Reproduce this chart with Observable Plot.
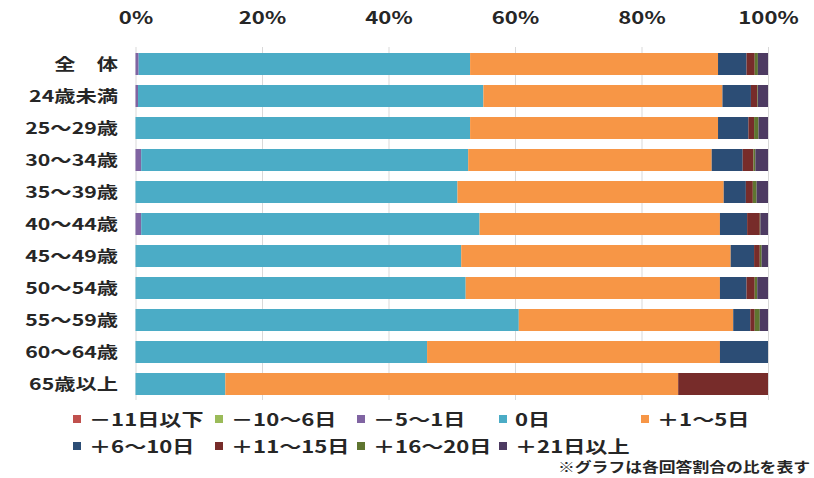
<!DOCTYPE html>
<html><head><meta charset="utf-8">
<script src="https://cdn.jsdelivr.net/npm/d3@7"></script>
<script src="https://cdn.jsdelivr.net/npm/@observablehq/plot@0.6"></script>
<style>
body{margin:0;background:#fff;font-family:"Noto Sans CJK JP","Noto Sans",sans-serif;}
#wrap{position:relative;width:814px;height:478px;overflow:hidden}
#chart svg{display:block}
.item{position:absolute;display:flex;align-items:center;height:20px;}
.sw{width:8px;height:8px;margin-right:8px;flex:none}
.lt{font-size:17px;font-weight:bold;color:#262626;transform:scaleX(1.3);transform-origin:left center;white-space:nowrap;line-height:20px}
.note{position:absolute;right:4px;top:456px;font-size:14px;font-weight:bold;color:#262626;transform:scaleX(1.2);transform-origin:right center;white-space:nowrap;line-height:20px}
</style></head>
<body>
<div id="wrap"><div id="chart"></div><div id="legend"></div></div>
<script>
const categories = ["全　体","24歳未満","25～29歳","30～34歳","35～39歳","40～44歳","45～49歳","50～54歳","55～59歳","60～64歳","65歳以上"];
const seriesNames = ["－11日以下","－10～6日","－5～1日","0日","＋1～5日","＋6～10日","＋11～15日","＋16～20日","＋21日以上"];
const seriesColors = ["#c0504d","#9bbb59","#8064a2","#4bacc6","#f79646","#2c4d75","#772c2a","#5f7530","#4d3b62"];
const xTicks = [0,20,40,60,80,100];
const noteText = "※グラフは各回答割合の比を表す";

const vM11 = [0,0,0,0,0,0,0,0,0,0,0];
const vM10 = [0,0,0,0,0,0,0,0,0,0,0];
const vM5  = [0.5,0.4,0,0.9,0,0.9,0,0,0,0,0];
const vZero= [52.4,54.6,52.9,51.7,50.9,53.5,51.5,52.2,60.6,46.1,14.2];
const vP1  = [39.2,37.8,39.2,38.5,42.1,38.0,42.6,40.2,33.9,46.3,71.6];
const vP6  = [4.5,4.5,4.8,4.9,3.5,4.3,3.7,4.2,2.7,7.6,0];
const vP11 = [1.3,1.0,0.9,1.7,1.1,2.0,0.9,1.3,0.7,0,14.2];
const vP16 = [0.5,0.1,0.7,0.3,0.6,0.1,0.3,0.4,0.8,0,0];
const vP21 = [1.6,1.6,1.5,2.0,1.8,1.2,1.0,1.7,1.3,0,0];
const seriesValues = [vM11,vM10,vM5,vZero,vP1,vP6,vP11,vP16,vP21];

const rows = [];
categories.forEach((c,i)=>seriesNames.forEach((s,j)=>rows.push({cat:c, series:s, value:seriesValues[j][i]})));

const chart = Plot.plot({
  width: 814, height: 405,
  marginTop: 47, marginBottom: 5, marginLeft: 135.5, marginRight: 46,
  style: {fontFamily:'"Noto Sans CJK JP","Noto Sans",sans-serif', fontSize:"16px", fontWeight:"bold", color:"#262626", background:"#fff"},
  x: {domain:[0,100], axis:"top", ticks:xTicks, tickFormat:d=>d+"%", tickSize:0, tickPadding:24, label:null},
  y: {domain:categories, paddingInner:0.32, paddingOuter:0.075, tickSize:0, tickPadding:18, label:null},
  color: {domain:seriesNames, range:seriesColors},
  marks: [
    Plot.ruleX(xTicks, {stroke:"#d9d9d9", strokeWidth:1}),
    Plot.barX(rows, {y:"cat", x:"value", fill:"series"})
  ]
});
document.getElementById("chart").appendChild(chart);
d3.select(chart).selectAll('g[aria-label="y-axis tick label"] text').each(function(){
  this.setAttribute("transform",(this.getAttribute("transform")||"")+" scale(1.33,1)");
});
d3.select(chart).selectAll('g[aria-label="x-axis tick label"] text').each(function(){
  this.setAttribute("transform",(this.getAttribute("transform")||"")+" scale(1.3,1)");
  this.setAttribute("font-size","17px");
});

const legend = document.getElementById("legend");
seriesNames.forEach((s,j)=>{
  const row = j<5?0:1, col = j<5?j:j-5;
  const it = document.createElement("div");
  it.className="item";
  it.style.left=(73+142*col)+"px";
  it.style.top=(row===0?409:436)+"px";
  it.innerHTML=`<div class="sw" style="background:${seriesColors[j]}"></div><div class="lt">${s}</div>`;
  legend.appendChild(it);
});
const n=document.createElement("div"); n.className="note"; n.textContent=noteText; legend.appendChild(n);
</script>
</body></html>
